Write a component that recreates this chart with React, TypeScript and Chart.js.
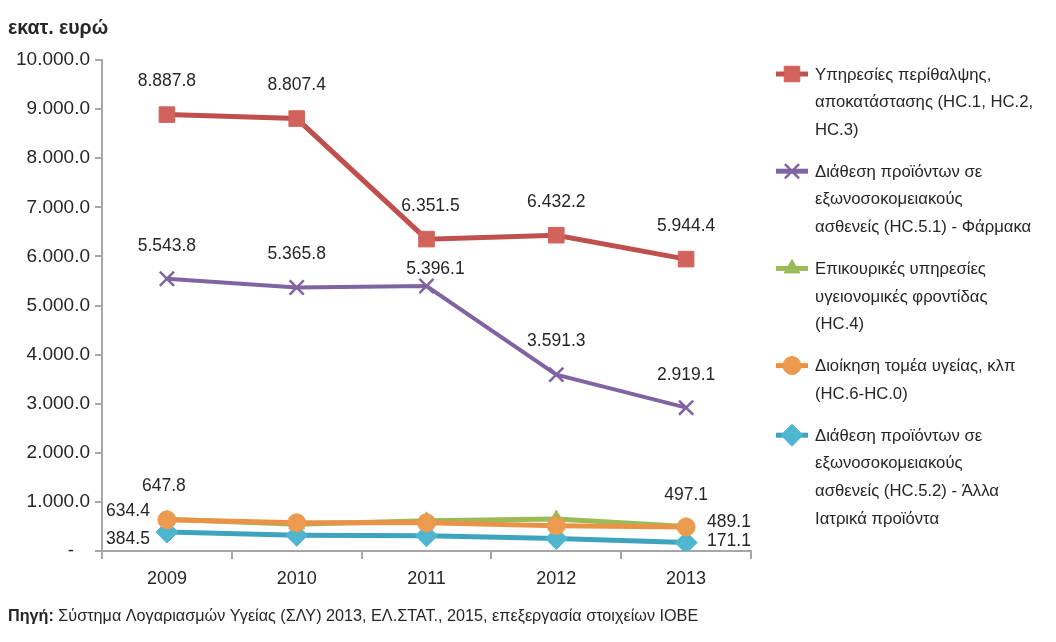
import React, { useEffect, useRef } from 'react';
import { Chart, registerables } from 'chart.js';
import { drawPoint } from 'chart.js/helpers';

Chart.register(...registerables);

const years = ['2009', '2010', '2011', '2012', '2013'];
const careServices = [8887.8, 8807.4, 6351.5, 6432.2, 5944.4];
const pharmaceuticals = [5543.8, 5365.8, 5396.1, 3591.3, 2919.1];
const ancillaryServices = [647.8, 545, 615, 650, 497.1];
const administration = [634.4, 575, 575, 515, 489.1];
const otherMedical = [384.5, 320, 310, 255, 171.1];
const yTicks = [0, 1000, 2000, 3000, 4000, 5000, 6000, 7000, 8000, 9000, 10000];

const legendLines = [
  ['Υπηρεσίες περίθαλψης,', 'αποκατάστασης (HC.1, HC.2,', 'HC.3)'],
  ['Διάθεση προϊόντων σε', 'εξωνοσοκομειακούς', 'ασθενείς (HC.5.1) - Φάρμακα'],
  ['Επικουρικές υπηρεσίες', 'υγειονομικές φροντίδας', '(HC.4)'],
  ['Διοίκηση τομέα υγείας, κλπ', '(HC.6-HC.0)'],
  ['Διάθεση προϊόντων σε', 'εξωνοσοκομειακούς', 'ασθενείς (HC.5.2) - Άλλα', 'Ιατρικά προϊόντα'],
];

const FONT = "'Liberation Sans', Arial, sans-serif";

function fmt(v: number): string {
  if (v === 0) return '-   ';
  const [i, d] = v.toFixed(1).split('.');
  return i.replace(/\B(?=(\d{3})+(?!\d))/g, '.') + '.' + d;
}

// label placement per series: null = no label
type LP = { pos: 'above' | 'left' | 'right'; dx?: number; dy?: number } | null;
const labelPlacement: LP[][] = [
  [{ pos: 'above' }, { pos: 'above' }, { pos: 'above', dx: 4 }, { pos: 'above' }, { pos: 'above' }],
  [{ pos: 'above' }, { pos: 'above' }, { pos: 'above', dx: 9, dy: 16 }, { pos: 'above' }, { pos: 'above' }],
  [{ pos: 'above', dx: -3 }, null, null, null, { pos: 'above', dy: 2 }],
  [{ pos: 'left', dy: -9 }, null, null, null, { pos: 'right', dy: -5 }],
  [{ pos: 'left', dy: 7 }, null, null, null, { pos: 'right', dy: -1 }],
];

export default function App() {
  const ref = useRef<HTMLCanvasElement>(null);
  useEffect(() => {
    if (!ref.current) return;
    const series = [
      { label: legendLines[0].join(' '), data: careServices, line: '#c0504d', fill: '#d2625c', style: 'rect', r: 11, bw: 5, order: 0 },
      { label: legendLines[1].join(' '), data: pharmaceuticals, line: '#8064a2', fill: '#8064a2', style: 'crossRot', r: 10, bw: 4, order: 1 },
      { label: legendLines[2].join(' '), data: ancillaryServices, line: '#9bbb59', fill: '#9bbb59', style: 'triangle', r: 9, bw: 5, order: 3 },
      { label: legendLines[3].join(' '), data: administration, line: '#ea9346', fill: '#ec9a4e', style: 'circle', r: 9, bw: 5, order: 2 },
      { label: legendLines[4].join(' '), data: otherMedical, line: '#3ea3bd', fill: '#4fb6d0', style: 'rectRot', r: 11, bw: 5, order: 4 },
    ];

    const overlay = {
      id: 'overlay',
      afterDatasetsDraw(chart: any) {
        const ctx = chart.ctx;
        ctx.save();
        ctx.fillStyle = '#262626';
        ctx.font = `17.5px ${FONT}`;
        chart.data.datasets.forEach((ds: any, di: number) => {
          const meta = chart.getDatasetMeta(di);
          meta.data.forEach((pt: any, i: number) => {
            const lp = labelPlacement[di][i];
            if (!lp) return;
            const txt = fmt(ds.data[i]);
            let x = pt.x + (lp.dx || 0);
            let y = pt.y + (lp.dy || 0);
            ctx.textBaseline = 'middle';
            if (lp.pos === 'above') {
              ctx.textAlign = 'center';
              y -= 33;
            } else if (lp.pos === 'left') {
              ctx.textAlign = 'right';
              x -= 17;
            } else {
              ctx.textAlign = 'left';
              x += 21;
            }
            ctx.fillText(txt, x, y);
          });
        });
        ctx.restore();
      },
      afterDraw(chart: any) {
        const ctx = chart.ctx;
        ctx.save();
        // title
        ctx.fillStyle = '#262626';
        ctx.textBaseline = 'middle';
        ctx.textAlign = 'left';
        ctx.font = `bold 19.5px ${FONT}`;
        ctx.fillText('εκατ. ευρώ', 0, 21);
        // source
        ctx.font = `bold 16.2px ${FONT}`;
        ctx.fillText('Πηγή:', 0, 609);
        const w = ctx.measureText('Πηγή:').width;
        ctx.font = `16.2px ${FONT}`;
        ctx.fillText(' Σύστημα Λογαριασμών Υγείας (ΣΛΥ) 2013, ΕΛ.ΣΤΑΤ., 2015, επεξεργασία στοιχείων ΙΟΒΕ', w, 609);
        // legend
        let y = 67;
        const lh = 27.6;
        series.forEach((s, i) => {
          const lines = legendLines[i];
          ctx.strokeStyle = s.line;
          ctx.lineWidth = 5;
          ctx.beginPath();
          ctx.moveTo(768, y - 1);
          ctx.lineTo(800, y - 1);
          ctx.stroke();
          ctx.fillStyle = s.fill;
          ctx.strokeStyle = s.fill;
          ctx.lineWidth = s.style === 'crossRot' ? 2.5 : 1;
          drawPoint(ctx, { pointStyle: s.style as any, rotation: 0, borderWidth: ctx.lineWidth, radius: s.r }, 784, y - 1);
          ctx.fillStyle = '#262626';
          ctx.font = `16.7px ${FONT}`;
          ctx.textAlign = 'left';
          ctx.textBaseline = 'middle';
          lines.forEach((ln, k) => ctx.fillText(ln, 807, y + k * lh));
          y += (lines.length - 1) * lh + 42;
        });
        ctx.restore();
      },
    };

    const chart = new Chart(ref.current, {
      type: 'line',
      data: {
        labels: years,
        datasets: series.map((s) => ({
          label: s.label,
          data: s.data,
          borderColor: s.line,
          backgroundColor: s.fill,
          borderWidth: s.bw,
          pointStyle: s.style as any,
          pointRadius: s.r,
          pointBorderColor: s.fill,
          pointBackgroundColor: s.fill,
          pointBorderWidth: s.style === 'crossRot' ? 2.5 : 1,
          tension: 0,
          order: s.order,
        })),
      },
      options: {
        animation: false,
        responsive: false,
        maintainAspectRatio: false,
        layout: { padding: { left: 0, top: 52, right: 297, bottom: 0 } },
        plugins: { legend: { display: false }, tooltip: { enabled: false }, title: { display: false } },
        scales: {
          x: {
            offset: true,
            grid: { offset: true, drawOnChartArea: false, drawTicks: true, tickLength: 8, color: '#a6a6a6', lineWidth: 2 },
            border: { color: '#a6a6a6', width: 2 },
            ticks: { color: '#262626', font: { family: FONT, size: 18 }, padding: 9 },
            afterFit: (s: any) => { s.height = 83; },
          },
          y: {
            min: 0,
            max: 10000,
            afterBuildTicks: (s: any) => { s.ticks = yTicks.map((v) => ({ value: v })); },
            grid: { drawOnChartArea: false, drawTicks: true, tickLength: 7, color: '#a6a6a6', lineWidth: 2 },
            border: { color: '#a6a6a6', width: 2 },
            ticks: { color: '#262626', font: { family: FONT, size: 19 }, padding: 5, callback: (v: any) => fmt(Number(v)) },
            afterFit: (s: any) => { s.width = 94; },
          },
        },
      },
      plugins: [overlay],
    });
    return () => chart.destroy();
  }, []);
  return (
    <div style={{ width: 1040, height: 626, position: 'relative' }}>
      <canvas ref={ref} width={1040} height={626} style={{ width: 1040, height: 626, display: 'block' }} />
    </div>
  );
}
